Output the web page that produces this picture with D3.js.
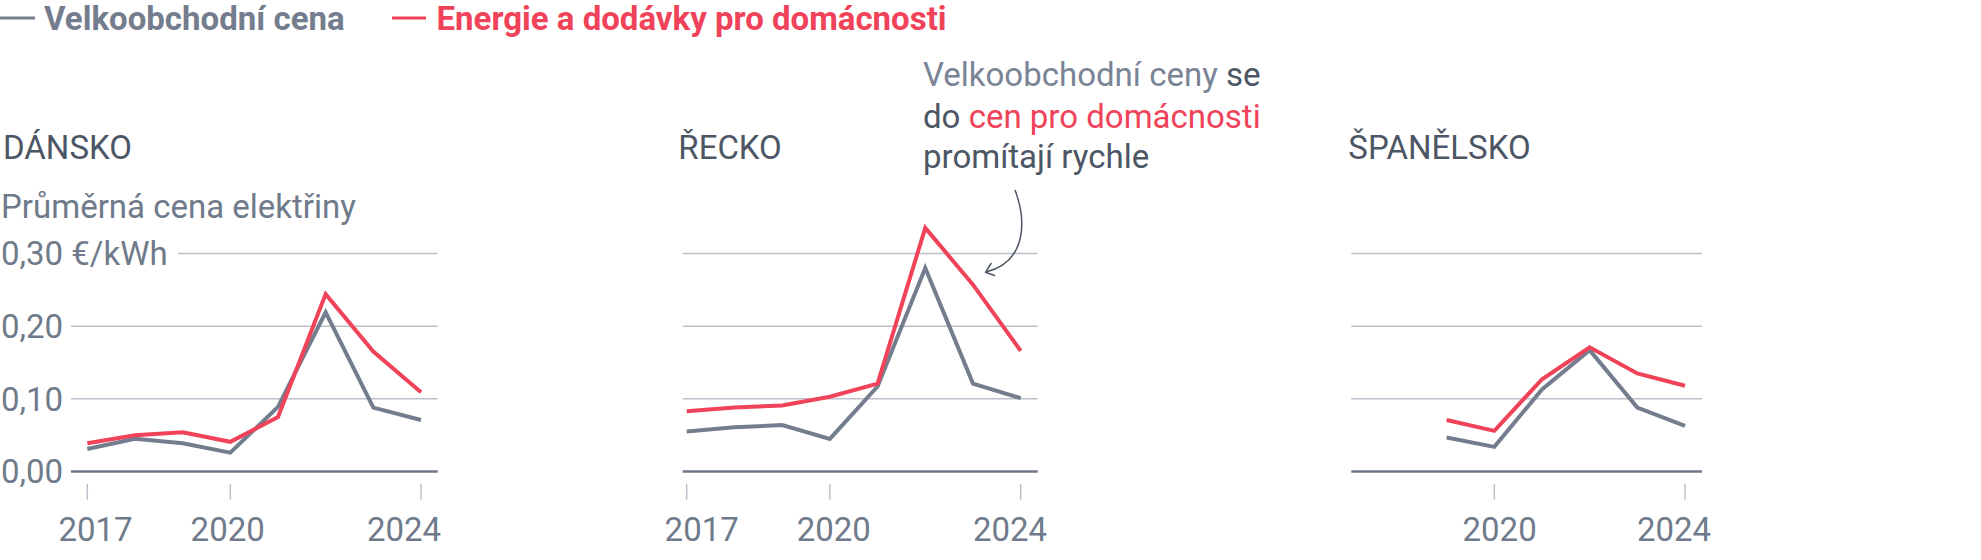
<!DOCTYPE html>
<html>
<head>
<meta charset="utf-8">
<script src="https://cdn.jsdelivr.net/npm/d3@7"></script>
<style>
  html, body { margin: 0; padding: 0; background: #fff; }
  svg { display: block; font-family: Roboto, "Noto Sans", sans-serif; }
</style>
</head>
<body>
<svg id="chart" width="1981" height="560"></svg>
<script>
// ---------- DATA ----------
const years = [2017, 2018, 2019, 2020, 2021, 2022, 2023, 2024];
const spainYears = [2019, 2020, 2021, 2022, 2023, 2024];

const denmarkWholesale = [0.031, 0.045, 0.039, 0.026, 0.089, 0.219, 0.088, 0.071];
const denmarkHousehold = [0.039, 0.050, 0.054, 0.041, 0.075, 0.244, 0.165, 0.109];

const greeceWholesale = [0.055, 0.061, 0.064, 0.045, 0.117, 0.280, 0.121, 0.101];
const greeceHousehold = [0.083, 0.088, 0.091, 0.103, 0.121, 0.335, 0.257, 0.166];

const spainWholesale = [0.047, 0.034, 0.113, 0.167, 0.088, 0.063];
const spainHousehold = [0.071, 0.056, 0.127, 0.171, 0.135, 0.118];

const yTicks = [0, 0.1, 0.2, 0.3];
const yTickLabels = ["0,00", "0,10", "0,20", "0,30 €/kWh"];
const countryNames = ["DÁNSKO", "ŘECKO", "ŠPANĚLSKO"];
const legendLabels = ["Velkoobchodní cena", "Energie a dodávky pro domácnosti"];
const xTicksFull = [2017, 2020, 2024];
const xTicksSpain = [2020, 2024];

// ---------- STYLE ----------
const GREY = "#737d8d";
const RED = "#f0435a";
const DARK = "#4c5665";
const LABEL = "#6f7a8a";
const GRID = "#bcc0cb";
const AXIS = "#6f7888";
const FS = 33;

const svg = d3.select("#chart");

const y = d3.scaleLinear().domain([0, 0.3]).range([471.6, 253.4]);

const panels = [
  { name: countryNames[0], titleX: 3, gridStart: 71, topGridStart: 178, xr: [87.3, 421], gridEnd: 437.7, lr: [95.5, 404],
    yrs: years, w: denmarkWholesale, h: denmarkHousehold, ticks: xTicksFull, yLabels: true },
  { name: countryNames[1], titleX: 678.3, gridStart: 682.7, topGridStart: 682.7, xr: [686.7, 1020.7], gridEnd: 1037.7, lr: [701.7, 1010],
    yrs: years, w: greeceWholesale, h: greeceHousehold, ticks: xTicksFull, yLabels: false },
  { name: countryNames[2], titleX: 1348.3, gridStart: 1351.3, topGridStart: 1351.3, xr: [1351.3, 1685], gridEnd: 1702, lr: [1368.8, 1674],
    yrs: spainYears, w: spainWholesale, h: spainHousehold, ticks: xTicksSpain, yLabels: false }
];

// ---------- LEGEND ----------
const leg = svg.append("g");
leg.append("line").attr("x1", 0).attr("x2", 35).attr("y1", 18).attr("y2", 18)
  .attr("stroke", GREY).attr("stroke-width", 3);
leg.append("text").attr("x", 44).attr("y", 30).text(legendLabels[0])
  .attr("fill", GREY).attr("font-size", FS).attr("font-weight", 700);
leg.append("line").attr("x1", 392).attr("x2", 426).attr("y1", 18).attr("y2", 18)
  .attr("stroke", RED).attr("stroke-width", 3);
leg.append("text").attr("x", 436.5).attr("y", 30).text(legendLabels[1])
  .attr("fill", RED).attr("font-size", FS).attr("font-weight", 700);

// ---------- PANELS ----------
panels.forEach(p => {
  const x = d3.scaleLinear().domain([2017, 2024]).range(p.xr);
  const xl = d3.scaleLinear().domain([2017, 2024]).range(p.lr);
  const g = svg.append("g");

  g.append("text").attr("x", p.titleX).attr("y", 159).text(p.name)
    .attr("fill", DARK).attr("font-size", FS);

  // gridlines
  g.selectAll("line.grid").data(yTicks).join("line")
    .attr("class", "grid")
    .attr("x1", d => d === 0.3 ? p.topGridStart : p.gridStart)
    .attr("x2", p.gridEnd)
    .attr("y1", d => y(d)).attr("y2", d => y(d))
    .attr("stroke", d => d === 0 ? AXIS : GRID)
    .attr("stroke-width", d => d === 0 ? 2.5 : 1.5);

  if (p.yLabels) {
    g.selectAll("text.yl").data(yTicks).join("text")
      .attr("class", "yl")
      .attr("x", 1).attr("y", d => y(d)).attr("dy", "0.36em")
      .attr("fill", LABEL).attr("font-size", FS)
      .text((d, i) => yTickLabels[i]);
    g.append("text").attr("x", 1).attr("y", 218).text("Průměrná cena elektřiny")
      .attr("fill", LABEL).attr("font-size", FS);
  }

  // x ticks
  g.selectAll("line.tick").data(p.ticks).join("line")
    .attr("class", "tick")
    .attr("x1", d => x(d)).attr("x2", d => x(d))
    .attr("y1", 484).attr("y2", 499.5)
    .attr("stroke", GRID).attr("stroke-width", 1.5);
  g.selectAll("text.xl").data(p.ticks).join("text")
    .attr("class", "xl")
    .attr("x", d => xl(d)).attr("y", 541)
    .attr("text-anchor", "middle")
    .attr("fill", LABEL).attr("font-size", FS)
    .text(d => d);

  const line = d3.line().x(d => x(d[0])).y(d => y(d[1]));
  const wData = p.yrs.map((yr, i) => [yr, p.w[i]]);
  const hData = p.yrs.map((yr, i) => [yr, p.h[i]]);
  g.append("path").attr("d", line(wData)).attr("fill", "none")
    .attr("stroke", GREY).attr("stroke-width", 4).attr("stroke-linejoin", "miter");
  g.append("path").attr("d", line(hData)).attr("fill", "none")
    .attr("stroke", RED).attr("stroke-width", 4).attr("stroke-linejoin", "miter");
});

// ---------- ANNOTATION ----------
const ann = svg.append("text").attr("font-size", FS);
const l1 = ann.append("tspan").attr("x", 923).attr("y", 86);
l1.append("tspan").attr("fill", "#7a8495").text("Velkoobchodní ceny");
l1.append("tspan").attr("fill", DARK).text(" se");
const l2 = ann.append("tspan").attr("x", 923).attr("y", 127.5);
l2.append("tspan").attr("fill", DARK).text("do ");
l2.append("tspan").attr("fill", RED).text("cen pro domácnosti");
ann.append("tspan").attr("x", 923).attr("y", 168).attr("fill", DARK).text("promítají rychle");

svg.append("path")
  .attr("d", "M1015,190 C1027,222 1026,262 986,272")
  .attr("fill", "none").attr("stroke", DARK).attr("stroke-width", 1.5);
svg.append("path")
  .attr("d", "M991,263.5 L985.5,272.3 L994.5,275.5")
  .attr("fill", "none").attr("stroke", DARK).attr("stroke-width", 1.5)
  .attr("stroke-linejoin", "round").attr("stroke-linecap", "round");
</script>
</body>
</html>
